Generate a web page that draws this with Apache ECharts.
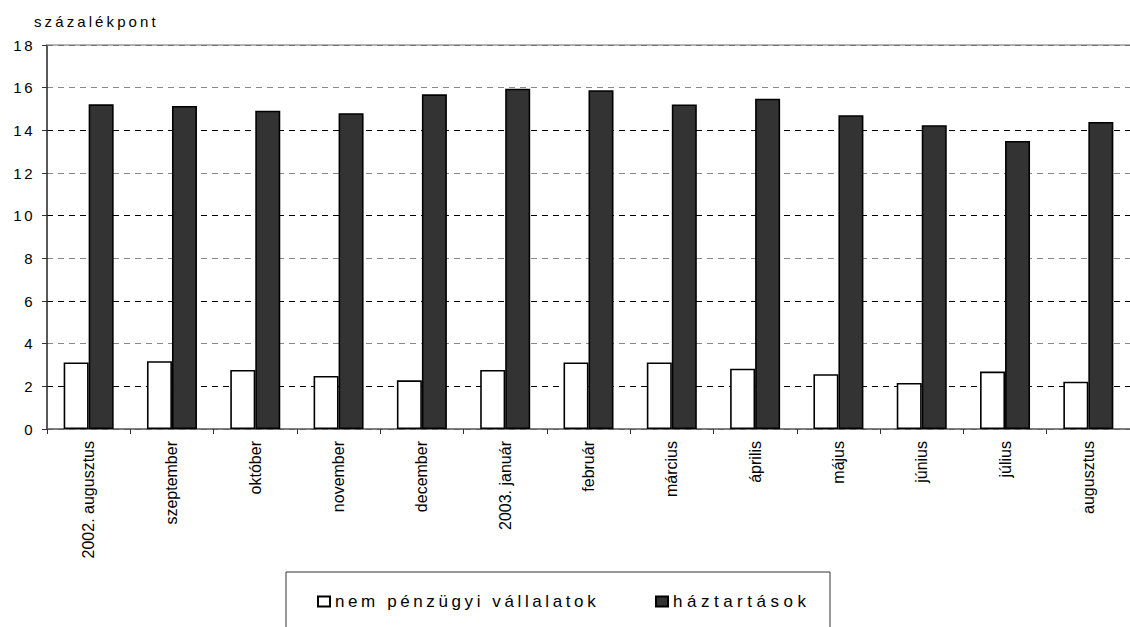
<!DOCTYPE html>
<html>
<head>
<meta charset="utf-8">
<script src="https://cdn.jsdelivr.net/npm/echarts@6/dist/echarts.min.js"></script>
<style>
  html, body { margin: 0; padding: 0; background: #ffffff; }
  #chart { width: 1130px; height: 627px; }
</style>
</head>
<body>
<div id="chart"></div>
<script>
// Monthly spreads, percentage points
const categories = [
  '2002. augusztus', 'szeptember', 'október', 'november', 'december',
  '2003. január', 'február', 'március', 'április', 'május', 'június', 'július', 'augusztus'
];
const corporateSpread = [3.12, 3.18, 2.77, 2.49, 2.28, 2.77, 3.12, 3.12, 2.83, 2.57, 2.16, 2.69, 2.22];
const householdSpread = [15.22, 15.14, 14.92, 14.80, 15.69, 15.95, 15.88, 15.21, 15.48, 14.71, 14.24, 13.50, 14.39];
const seriesNames = ['nem pénzügyi vállalatok', 'háztartások'];
const unitLabel = 'százalékpont';
const yMin = 0, yMax = 18, yStep = 2;

const FONT = '"Liberation Sans", Arial, Helvetica, sans-serif';

const chart = echarts.init(document.getElementById('chart'), null, { renderer: 'svg' });

const barStyle = (fill) => ({ color: fill, borderColor: '#000000', borderWidth: 1.6 });

const legendBase = {
  icon: 'rect',
  itemWidth: 12,
  itemHeight: 10,
  top: 593,
  padding: 0,
  selectedMode: false,
  textStyle: { fontFamily: FONT, fontSize: 17, color: '#000000' }
};

chart.setOption({
  animation: false,
  backgroundColor: '#ffffff',
  title: {
    text: unitLabel,
    left: 34,
    top: 14,
    padding: 0,
    textStyle: { fontFamily: FONT, fontSize: 15, fontWeight: 'normal', color: '#000000' }
  },
  grid: { left: 47, top: 45, width: 1094, height: 384, containLabel: false },
  legend: [
    Object.assign({ data: [seriesNames[0]], left: 317 }, legendBase),
    Object.assign({ data: [seriesNames[1]], left: 655 }, legendBase)
  ],
  graphic: [{
    type: 'rect',
    z: 0,
    shape: { x: 286, y: 572, width: 544, height: 80 },
    style: { fill: 'none', stroke: '#333333', lineWidth: 1 }
  }],
  xAxis: [{
    type: 'category',
    data: categories,
    position: 'bottom',
    axisLine: { lineStyle: { color: '#555555', width: 1.5 } },
    axisTick: { show: true, length: 5, interval: 0, lineStyle: { color: '#333333', width: 1 } },
    axisLabel: {
      interval: 0,
      rotate: 90,
      margin: 12,
      fontFamily: FONT,
      fontSize: 16,
      color: '#000000'
    },
    splitLine: { show: false }
  }, {
    type: 'category',
    data: categories,
    position: 'top',
    axisLine: { lineStyle: { color: '#9a9a9a', width: 1.5 } },
    axisTick: { show: false },
    axisLabel: { show: false },
    splitLine: { show: false }
  }],
  yAxis: {
    type: 'value',
    min: yMin,
    max: yMax,
    interval: yStep,
    axisLine: { show: true, lineStyle: { color: '#222222', width: 1.5 } },
    axisTick: { show: true, length: 5, lineStyle: { color: '#333333', width: 1 } },
    axisLabel: {
      margin: 12,
      fontFamily: FONT,
      fontSize: 15,
      color: '#000000'
    },
    splitLine: {
      show: true,
      lineStyle: { color: ['#888888', '#000000'], type: [6, 5], width: 1 }
    }
  },
  series: [{
    name: seriesNames[0],
    type: 'bar',
    data: corporateSpread,
    barWidth: 25,
    barGap: '0%',
    itemStyle: barStyle('#ffffff')
  }, {
    name: seriesNames[1],
    type: 'bar',
    data: householdSpread,
    barWidth: 25,
    barGap: '0%',
    itemStyle: barStyle('#333333')
  }]
});

// Expanded character spacing for the unit label, legend entries and value-axis numbers
const spacing = new Map([
  [unitLabel, '3.1px'],
  [seriesNames[0], '3.6px'],
  [seriesNames[1], '4.5px']
]);
function applySpacing() {
  chart.getDom().querySelectorAll('text').forEach((t) => {
    const s = t.textContent;
    if (spacing.has(s)) t.setAttribute('letter-spacing', spacing.get(s));
    else if (/^\d+$/.test(s)) t.setAttribute('letter-spacing', '2.5px');
  });
}
chart.on('finished', applySpacing);
applySpacing();
</script>
</body>
</html>
